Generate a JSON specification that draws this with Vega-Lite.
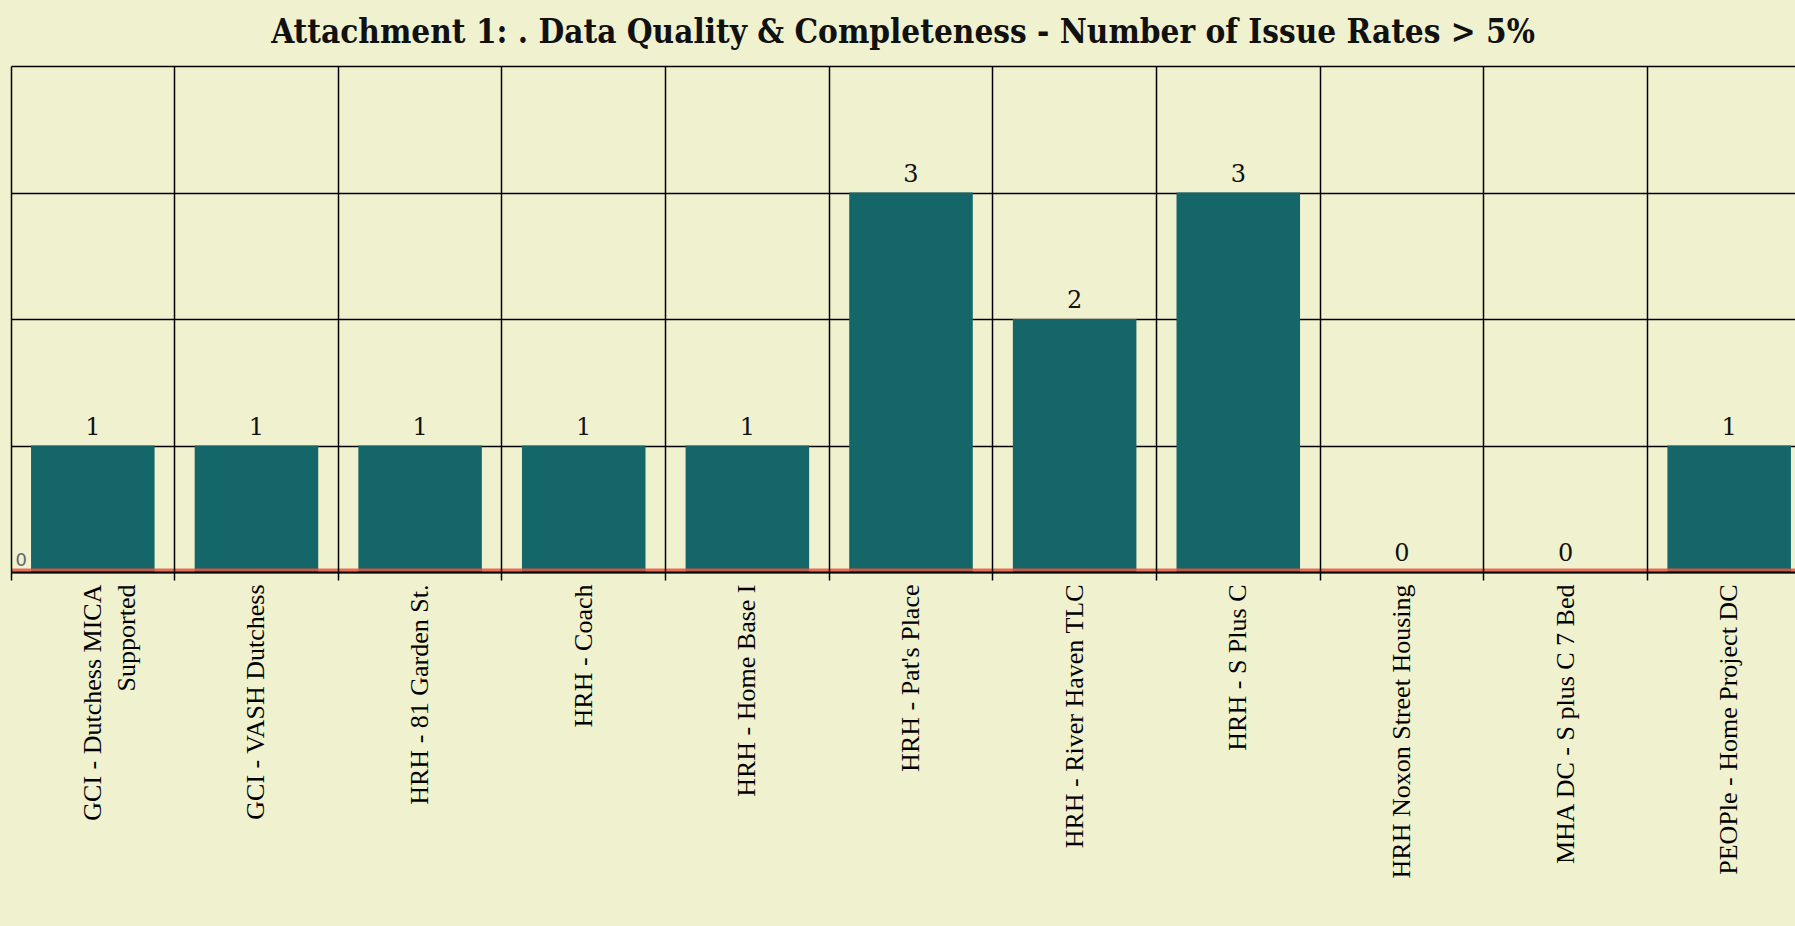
{
  "$schema": "https://vega.github.io/schema/vega-lite/v6.json",
  "autosize": "none",
  "width": 1784,
  "height": 506,
  "padding": {"left": 11, "top": 66, "right": 0, "bottom": 354},
  "background": "#F0F2CF",
  "title": {
    "text": "Attachment 1: . Data Quality & Completeness - Number of Issue Rates > 5%",
    "font": "DejaVu Serif Condensed",
    "fontSize": 33,
    "fontWeight": "bold",
    "color": "#111111",
    "anchor": "middle",
    "offset": 16
  },
  "config": {
    "view": {"stroke": null},
    "axis": {"gridColor": "#000000", "gridOpacity": 1, "gridWidth": 1.5}
  },
  "datasets": {
    "issues": [
      {"name": "GCI - Dutchess MICA Supported", "value": 1},
      {"name": "GCI - VASH Dutchess", "value": 1},
      {"name": "HRH - 81 Garden St.", "value": 1},
      {"name": "HRH - Coach", "value": 1},
      {"name": "HRH - Home Base I", "value": 1},
      {"name": "HRH - Pat's Place", "value": 3},
      {"name": "HRH - River Haven TLC", "value": 2},
      {"name": "HRH - S Plus C", "value": 3},
      {"name": "HRH Noxon Street Housing", "value": 0},
      {"name": "MHA DC - S plus C 7 Bed", "value": 0},
      {"name": "PEOPle - Home Project DC", "value": 1}
    ],
    "baseline": [{"level": 0}]
  },
  "layer": [
    {
      "data": {"name": "issues"},
      "mark": {"type": "bar", "color": "#146668", "width": {"band": 0.755}},
      "encoding": {
        "x": {
          "field": "name",
          "type": "nominal",
          "sort": null,
          "scale": {"range": [0, 1800], "paddingInner": 0, "paddingOuter": 0},
          "axis": {
            "title": null,
            "grid": true,
            "bandPosition": 0,
            "domainColor": "#000000",
            "domainWidth": 2,
            "tickColor": "#000000",
            "tickSize": 8,
            "tickWidth": 1.5,
            "labelAngle": -90,
            "labelAlign": "right",
            "labelBaseline": "middle",
            "labelPadding": 4,
            "labelFont": "Liberation Serif",
            "labelFontSize": 26,
            "labelLineHeight": 34,
            "labelColor": "#000000",
            "labelLimit": 0,
            "labelExpr": "datum.value == 'GCI - Dutchess MICA Supported' ? ['GCI - Dutchess MICA', 'Supported'] : datum.label",
            "zindex": 1
          }
        },
        "y": {
          "field": "value",
          "type": "quantitative",
          "scale": {"domain": [0, 4], "nice": false},
          "axis": {
            "title": null,
            "values": [0, 1, 2, 3, 4],
            "grid": true,
            "domain": false,
            "ticks": false,
            "tickSize": 0,
            "labelExpr": "datum.value == 0 ? '0' : ''",
            "labelAlign": "left",
            "labelBaseline": "bottom",
            "labelPadding": -4,
            "labelOffset": -3,
            "labelFont": "DejaVu Sans",
            "labelFontSize": 18,
            "labelColor": "#666666"
          }
        }
      }
    },
    {
      "data": {"name": "issues"},
      "mark": {"type": "text", "font": "DejaVu Serif", "fontSize": 24, "color": "#111111", "baseline": "bottom", "dy": -6},
      "encoding": {
        "x": {"field": "name", "type": "nominal", "sort": null},
        "y": {"field": "value", "type": "quantitative"},
        "text": {"field": "value", "type": "quantitative"}
      }
    },
    {
      "data": {"name": "baseline"},
      "mark": {"type": "rule", "color": "#E5573F", "opacity": 0.85, "strokeWidth": 3, "yOffset": -2},
      "encoding": {"y": {"field": "level", "type": "quantitative"}}
    }
  ]
}
